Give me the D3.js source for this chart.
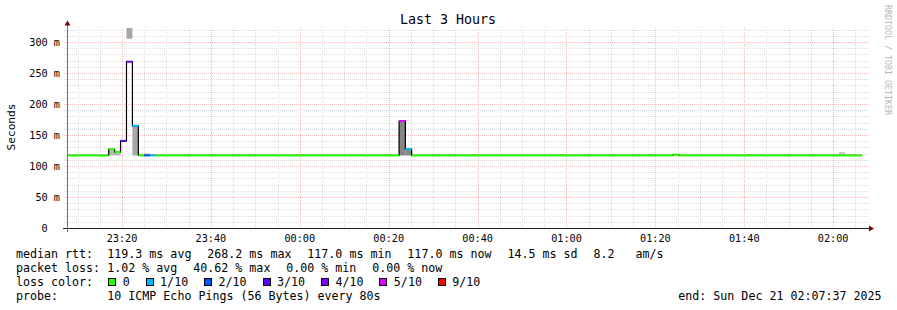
<!DOCTYPE html>
<html><head><meta charset="utf-8">
<script src="https://cdn.jsdelivr.net/npm/d3@7"></script>
<style>
html,body{margin:0;padding:0;background:#fff;}
svg{display:block;font-family:"DejaVu Sans Mono",monospace;}
</style></head><body><svg id="c" width="897" height="310"></svg>
<script>
// ---------- data ----------
const chartTitle = "Last 3 Hours";
const yAxisTitle = "Seconds";
const watermark = "RRDTOOL / TOBI OETIKER";
const rangeStart = "2025-12-20T23:07:37";
const rangeEnd = "2025-12-21T02:07:37";
const dataEnd = "2025-12-21T02:06:27";

// median rtt steps (start time, median ms, lost pings of 10)
const stepStart = [
  "2025-12-20T23:07:37","2025-12-20T23:17:00","2025-12-20T23:18:20","2025-12-20T23:19:40",
  "2025-12-20T23:21:00","2025-12-20T23:22:20","2025-12-20T23:23:40","2025-12-20T23:25:00",
  "2025-12-20T23:26:20","2025-12-20T23:27:40","2025-12-21T00:22:20","2025-12-21T00:23:45",
  "2025-12-21T00:25:10","2025-12-21T01:24:00","2025-12-21T01:25:20"];
const medianMs = [117, 127, 122.3, 140.5, 268.2, 164.8, 117, 117, 117, 117, 172.6, 127.1, 117, 118.5, 117];
const lossCount = [0, 0, 0, 3, 4, 1, 0, 2, 1, 0, 5, 1, 0, 0, 0];

// smoke bands (spread of individual pings)
const smokeStart = ["2025-12-20T23:17:00","2025-12-20T23:18:20","2025-12-20T23:21:00","2025-12-20T23:22:20",
  "2025-12-20T23:25:00","2025-12-21T00:22:20","2025-12-21T00:23:45","2025-12-21T02:01:20"];
const smokeEnd = ["2025-12-20T23:18:20","2025-12-20T23:19:40","2025-12-20T23:22:20","2025-12-20T23:23:40",
  "2025-12-20T23:26:20","2025-12-21T00:23:45","2025-12-21T00:25:10","2025-12-21T02:02:40"];
const smokeLo = [117, 117, 305.3, 117, 117, 117, 117, 118.3];
const smokeHi = [127, 122.3, 340, 164.8, 120, 172.6, 127.1, 122.6];
const smokePings = [2, 2, 3, 3, 3, 5, 5, 1];

const yTickValues = [0, 50, 100, 150, 200, 250, 300];
const yTickLabels = ["0  ", "50 m", "100 m", "150 m", "200 m", "250 m", "300 m"];

const lossLevels = [0, 1, 2, 3, 4, 5, 9];
const lossLabels = ["0", "1/10", "2/10", "3/10", "4/10", "5/10", "9/10"];
const lossColors = ["#26ff00", "#00b8ff", "#0059ff", "#5e00ff", "#7e00ff", "#dd00ff", "#ff0000"];

const rttLabel = "median rtt:";
const rttItems = ["119.3 ms avg", "268.2 ms max", "117.0 ms min", "117.0 ms now", "14.5 ms sd", "8.2   am/s"];
const lossLabel = "packet loss:";
const lossItems = ["1.02 % avg", "40.62 % max", "0.00 % min", "0.00 % now"];
const colorLabel = "loss color:";
const probeLabel = "probe:";
const probeText = "10 ICMP Echo Pings (56 Bytes) every 80s";
const endText = "end: Sun Dec 21 02:07:37 2025";

// ---------- drawing ----------
const parse = d3.timeParse("%Y-%m-%dT%H:%M:%S");
const svg = d3.select("#c");
const L = 67, R = 867, T = 28, B = 228;
const x = d3.scaleTime().domain([parse(rangeStart), parse(rangeEnd)]).range([L, R]);
const y = d3.scaleLinear().domain([0, 200 / 0.62]).range([B, T]);
const lossColor = d3.scaleThreshold().domain(lossLevels.slice(1)).range(lossColors);
const smokeColor = d3.scaleLinear().domain([1, 5]).range(["#c8c8c8", "#868686"]);

svg.append("defs").append("clipPath").attr("id", "plot")
  .append("rect").attr("x", L).attr("y", T).attr("width", R - L).attr("height", B - T);

const crisp = v => Math.round(v) + 0.5;
const MINOR = "#dcdcdc", MAJOR = "#f3bcbc";

// grid
const g = svg.append("g");
const minorX = x.ticks(d3.timeMinute.every(5));
const majorX = x.ticks(d3.timeMinute.every(20));
const majorSet = new Set(majorX.map(d => +d));
minorX.filter(d => !majorSet.has(+d)).forEach(d => {
  g.append("line").attr("x1", crisp(x(d))).attr("x2", crisp(x(d))).attr("y1", T).attr("y2", B)
    .attr("stroke", MINOR).attr("stroke-dasharray", "1,1");
});
const minorY = d3.range(0, 321, 10);
minorY.filter(v => v % 50 !== 0).forEach(v => {
  g.append("line").attr("x1", L - 3).attr("x2", R + 2).attr("y1", crisp(y(v))).attr("y2", crisp(y(v)))
    .attr("stroke", MINOR).attr("stroke-dasharray", "1,1");
});
majorX.forEach(d => {
  g.append("line").attr("x1", crisp(x(d))).attr("x2", crisp(x(d))).attr("y1", T).attr("y2", B)
    .attr("stroke", MAJOR).attr("stroke-dasharray", "1,1");
});
yTickValues.filter(v => v > 0).forEach(v => {
  g.append("line").attr("x1", L - 3).attr("x2", R + 2).attr("y1", crisp(y(v))).attr("y2", crisp(y(v)))
    .attr("stroke", MAJOR).attr("stroke-dasharray", "1,1");
});

// smoke
const plot = svg.append("g").attr("clip-path", "url(#plot)");
plot.selectAll("rect.smoke").data(smokeStart.map((s, i) => i)).join("rect")
  .attr("class", "smoke")
  .attr("x", i => x(parse(smokeStart[i])))
  .attr("width", i => x(parse(smokeEnd[i])) - x(parse(smokeStart[i])))
  .attr("y", i => y(smokeHi[i]))
  .attr("height", i => y(smokeLo[i]) - y(smokeHi[i]))
  .attr("fill", i => smokeColor(smokePings[i]));

// median black step line
const pts = stepStart.map((s, i) => [x(parse(s)), y(medianMs[i])]);
pts.push([x(parse(dataEnd)), y(medianMs[medianMs.length - 1])]);
plot.append("path").attr("d", d3.line().curve(d3.curveStepAfter)(pts))
  .attr("fill", "none").attr("stroke", "#000").attr("stroke-width", 1.2);

// colored median segments
stepStart.forEach((s, i) => {
  const x0 = x(parse(s));
  const x1 = i + 1 < stepStart.length ? x(parse(stepStart[i + 1])) : x(parse(dataEnd));
  plot.append("line").attr("x1", x0).attr("x2", x1).attr("y1", y(medianMs[i])).attr("y2", y(medianMs[i]))
    .attr("stroke", lossColor(lossCount[i])).attr("stroke-width", 2);
});

// axes
svg.append("line").attr("x1", L - 4).attr("x2", R + 2).attr("y1", B + 0.5).attr("y2", B + 0.5)
  .attr("stroke", "#1c1c1c");
svg.append("line").attr("x1", L + 0.5).attr("x2", L + 0.5).attr("y1", B + 4).attr("y2", 24)
  .attr("stroke", "#707070");
svg.append("path").attr("d", `M${R + 2},${B - 2.5}L${R + 7},${B + 0.5}L${R + 2},${B + 3.5}Z`).attr("fill", "#7f0000");
svg.append("path").attr("d", `M${L - 2.5},25.5L${L + 0.5},20.5L${L + 3.5},25.5Z`).attr("fill", "#7f0000");

// tick labels
svg.selectAll("text.yl").data(yTickValues).join("text").attr("class", "yl")
  .attr("x", 60).attr("y", v => y(v) + 3.5).attr("text-anchor", "end").attr("fill", "#000")
  .attr("font-size", 10.2).attr("xml:space", "preserve").style("white-space", "pre")
  .text((v, i) => yTickLabels[i]);
const fmt = d3.timeFormat("%H:%M");
svg.selectAll("text.xl").data(majorX).join("text").attr("class", "xl")
  .attr("x", d => x(d)).attr("y", 242).attr("text-anchor", "middle").attr("font-size", 10.2)
  .text(d => fmt(d));

// titles
svg.append("text").attr("x", 448).attr("y", 23.5).attr("text-anchor", "middle").attr("font-size", 13.3).text(chartTitle);
svg.append("text").attr("transform", "translate(15,127) rotate(-90)").attr("text-anchor", "middle")
  .attr("font-size", 11.2).text(yAxisTitle);
svg.append("text").attr("transform", "translate(885,60) rotate(90)").attr("text-anchor", "middle")
  .attr("font-size", 8.3).attr("fill", "#b8b8b8").text(watermark);

// legend
const CW = 7.01, FS = 11.65, X0 = 16, XV = 107.3, GAP = 15.9;
function row(label, items, by) {
  svg.append("text").attr("x", X0).attr("y", by).attr("font-size", FS).text(label);
  let cx = XV;
  items.forEach(t => {
    svg.append("text").attr("x", cx).attr("y", by).attr("font-size", FS)
      .attr("xml:space", "preserve").style("white-space", "pre").text(t);
    cx += t.length * CW + GAP;
  });
}
row(rttLabel, rttItems, 258.3);
row(lossLabel, lossItems, 272.3);
svg.append("text").attr("x", X0).attr("y", 286.3).attr("font-size", FS).text(colorLabel);
let lx = XV;
lossLabels.forEach((t, i) => {
  svg.append("rect").attr("x", Math.round(lx + 1) + 0.5).attr("y", 278.5).attr("width", 7).attr("height", 7)
    .attr("fill", lossColors[i]).attr("stroke", "#000").attr("stroke-width", 1);
  svg.append("text").attr("x", lx + 15.4).attr("y", 286.3).attr("font-size", FS).text(t);
  lx += 15.4 + t.length * CW + 15.0;
});
svg.append("text").attr("x", X0).attr("y", 300.3).attr("font-size", FS).text(probeLabel);
svg.append("text").attr("x", XV).attr("y", 300.3).attr("font-size", FS).text(probeText);
svg.append("text").attr("x", 678.3).attr("y", 300.3).attr("font-size", FS).text(endText);
</script></body></html>
